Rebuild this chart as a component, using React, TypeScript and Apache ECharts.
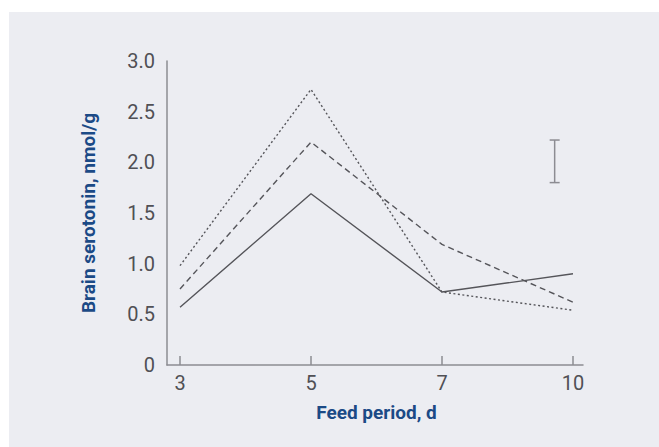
import React, { useEffect, useRef } from "react";
import * as echarts from "echarts";

const categories = ["3", "5", "7", "10"];
const solidValues = [0.57, 1.69, 0.72, 0.9];
const dashedValues = [0.75, 2.2, 1.19, 0.62];
const dottedValues = [0.98, 2.72, 0.72, 0.54];
const yTicks = [0, 0.5, 1.0, 1.5, 2.0, 2.5, 3.0];
const errorBar = { x: 2.86, low: 1.8, high: 2.22 };

const LINE = "#55555a";
const AXIS = "#8c8c92";
const LABEL = "#505055";
const TITLE = "#1b4a86";
const BG = "#ecedf2";

export default function App() {
  const ref = useRef<HTMLDivElement>(null);
  useEffect(() => {
    if (!ref.current) return;
    const chart = echarts.init(ref.current, undefined, { renderer: "svg" });
    const toPairs = (arr: number[]) => arr.map((v, i) => [i, v]);
    const lineSeries = (name: string, data: number[], type: any) => ({
      name,
      type: "line",
      xAxisIndex: 1,
      yAxisIndex: 1,
      data: toPairs(data),
      symbol: "none",
      lineStyle: { color: LINE, width: 1.4, type },
    });
    chart.setOption({
      animation: false,
      backgroundColor: "#ffffff",
      graphic: [
        {
          type: "rect",
          z: -10,
          silent: true,
          shape: { x: 9, y: 12, width: 650, height: 435 },
          style: { fill: BG },
        },
      ],
      grid: [
        { left: 167, right: 76, top: 61, bottom: 82 },
        { left: 180, right: 86, top: 61, bottom: 82 },
      ],
      xAxis: [
        {
          gridIndex: 0,
          type: "value",
          min: 0,
          max: 1,
          axisLine: { show: true, lineStyle: { color: AXIS, width: 1.5 } },
          axisTick: { show: false },
          axisLabel: { show: false },
          splitLine: { show: false },
        },
        {
          gridIndex: 1,
          type: "value",
          min: 0,
          max: categories.length - 1,
          interval: 1,
          name: "Feed period, d",
          nameLocation: "middle",
          nameGap: 38,
          nameTextStyle: {
            color: TITLE,
            fontSize: 19,
            fontWeight: "bold",
            fontFamily: "Roboto, sans-serif",
          },
          axisLine: { show: false },
          axisTick: {
            show: true,
            inside: true,
            length: 9,
            lineStyle: { color: AXIS, width: 1.5 },
          },
          axisLabel: {
            margin: 8,
            color: LABEL,
            fontSize: 20,
            fontFamily: "Roboto, sans-serif",
            formatter: (v: number) => categories[Math.round(v)] ?? "",
          },
          splitLine: { show: false },
        },
      ],
      yAxis: [
        {
          gridIndex: 0,
          type: "value",
          min: yTicks[0],
          max: yTicks[yTicks.length - 1],
          interval: 0.5,
          name: "Brain serotonin, nmol/g",
          nameLocation: "middle",
          nameGap: 69,
          nameTextStyle: {
            color: TITLE,
            fontSize: 19,
            fontWeight: "bold",
            fontFamily: "Roboto, sans-serif",
          },
          axisLine: { show: true, lineStyle: { color: AXIS, width: 1.5 } },
          axisTick: { show: false },
          axisLabel: {
            margin: 12,
            color: LABEL,
            fontSize: 20,
            fontFamily: "Roboto, sans-serif",
            formatter: (v: number) => (v === 0 ? "0" : v.toFixed(1)),
          },
          splitLine: { show: false },
        },
        {
          gridIndex: 1,
          type: "value",
          min: yTicks[0],
          max: yTicks[yTicks.length - 1],
          interval: 0.5,
          show: false,
          splitLine: { show: false },
        },
      ],
      series: [
        lineSeries("solid", solidValues, "solid"),
        lineSeries("dashed", dashedValues, [6, 4]),
        lineSeries("dotted", dottedValues, [2, 2.5]),
        {
          type: "custom",
          xAxisIndex: 1,
          yAxisIndex: 1,
          data: [[errorBar.x, errorBar.low, errorBar.high]],
          renderItem: (params: any, api: any) => {
            const top = api.coord([api.value(0), api.value(2)]);
            const bot = api.coord([api.value(0), api.value(1)]);
            const hw = 5;
            const style = { stroke: AXIS, lineWidth: 1.5 };
            return {
              type: "group",
              children: [
                { type: "line", shape: { x1: top[0], y1: top[1], x2: bot[0], y2: bot[1] }, style },
                { type: "line", shape: { x1: top[0] - hw, y1: top[1], x2: top[0] + hw, y2: top[1] }, style },
                { type: "line", shape: { x1: bot[0] - hw, y1: bot[1], x2: bot[0] + hw, y2: bot[1] }, style },
              ],
            };
          },
        },
      ],
    });
    return () => chart.dispose();
  }, []);
  return (
    <div
      ref={ref}
      style={{ position: "fixed", left: 0, top: 0, width: 659, height: 447 }}
    />
  );
}
